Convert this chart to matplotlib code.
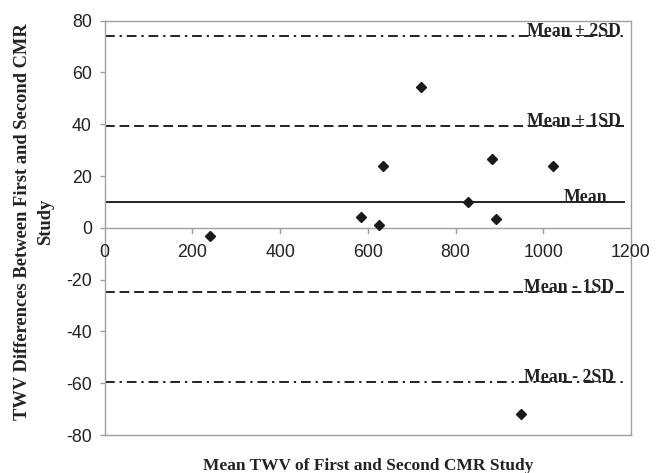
import matplotlib
matplotlib.use("Agg")
import matplotlib.pyplot as plt

plt.rcParams["axes.unicode_minus"] = False

# Data
mean_twv = [240, 584, 626, 634, 722, 828, 884, 892, 950, 1022]
diff_twv = [-3, 4, 1, 24, 54.5, 10, 26.5, 3.3, -72, 24]

line_levels = [74, 39.5, 10, -24.7, -59.5]
line_labels = ["Mean \u00b1 2SD", "Mean \u00b1 1SD", "Mean", "Mean - 1SD", "Mean - 2SD"]
line_styles = ["dashdot", "dashed", "solid", "dashed", "dashdot"]
label_right = [1176, 1176, 1146, 1162, 1162]

x_ticks = [0, 200, 400, 600, 800, 1000, 1200]
y_ticks = [-80, -60, -40, -20, 0, 20, 40, 60, 80]

W, H = 665, 473
fig = plt.figure(figsize=(W / 100, H / 100), dpi=100)
ax = fig.add_axes([104.6 / W, 1 - 435 / H, (631 - 104.6) / W, (435 - 20.7) / H])

serif = ["Liberation Serif", "DejaVu Serif"]
sans = ["Liberation Sans", "DejaVu Sans"]

ax.set_xlim(0, 1200)
ax.set_ylim(-80, 80)

for lvl, lab, ls, xr in zip(line_levels, line_labels, line_styles, label_right):
    if ls == "dashed":
        dash = (0, (5, 2.5))
    elif ls == "dashdot":
        dash = (0, (5, 2.5, 1.2, 2.5))
    else:
        dash = "solid"
    ax.plot([0, 1185], [lvl, lvl], color="#222222", lw=1.4, linestyle=dash, zorder=2)
    ax.text(xr, lvl, lab, ha="right", va="baseline", fontsize=12.8,
            fontweight="bold", family=serif, color="#222222", zorder=3)

ax.plot(mean_twv, diff_twv, linestyle="none", marker="D", markersize=5,
        color="#1a1a1a", zorder=4)

gray = "#a0a0a0"
for s in ax.spines.values():
    s.set_color(gray)
    s.set_linewidth(1.0)

# x axis line at y = 0
ax.axhline(0, color=gray, lw=1.0, zorder=1)
ax.set_xticks(x_ticks)
ax.set_yticks(y_ticks)
ax.tick_params(axis="x", bottom=False, labelbottom=False)
for xt in x_ticks[1:-1]:
    ax.plot([xt, xt], [0, -2.0], color=gray, lw=1.0, clip_on=False, zorder=1)
for xt in x_ticks:
    ax.text(xt, -6.3, str(xt), ha="center", va="top", fontsize=12.8,
            family=sans, color="#222222")
ax.tick_params(axis="y", direction="out", length=3.6, color=gray, width=1.0,
               labelsize=12.8, pad=5.5)
for lbl in ax.get_yticklabels():
    lbl.set_family(sans)
    lbl.set_color("#222222")

fig.text(34 / W, 1 - 222 / H, "TWV Differences Between First and Second CMR\nStudy",
         rotation=90, ha="center", va="center", fontsize=13.3, fontweight="bold",
         family=serif, color="#222222", linespacing=1.4)
fig.text(368 / W, 1 - 466 / H, "Mean TWV of First and Second CMR Study",
         ha="center", va="center", fontsize=12.5, fontweight="bold",
         family=serif, color="#222222")

fig.savefig("out.png", dpi=100)
